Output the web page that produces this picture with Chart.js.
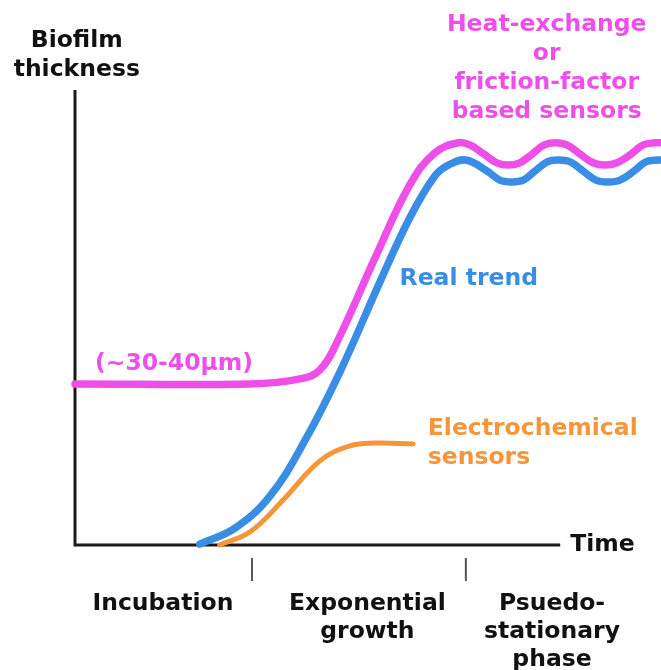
<!DOCTYPE html>
<html>
<head>
<meta charset="utf-8">
<script src="https://cdn.jsdelivr.net/npm/chart.js@4/dist/chart.umd.min.js"></script>
<style>
  html, body { margin: 0; padding: 0; background: #fff; }
  #wrap { width: 661px; height: 670px; position: relative; }
</style>
</head>
<body>
<div id="wrap"><canvas id="biofilmChart"></canvas></div>
<script>
// time (0-100) and thickness (0-100)
const heatTime = [0, 29.9, 38.4, 41.8, 44.9, 51.2, 57.2, 61.4, 65.4, 67.4, 69.8, 72.0, 73.9, 75.9, 78.0, 80.0, 81.9, 84.0, 86.2, 88.4, 90.4, 92.5, 94.9, 96.9, 99.0, 100]
const heatThickness = [35.4, 35.4, 36.5, 38.5, 45.1, 63.1, 79.3, 86.2, 88.4, 87.9, 85.9, 84.0, 83.5, 84.0, 85.9, 87.9, 88.4, 87.9, 85.9, 84.0, 83.5, 84.0, 85.9, 87.9, 88.4, 88.4]

const realTime = [21.3, 27.3, 33.3, 39.3, 45.2, 52.1, 57.2, 61.4, 63.7, 66.7, 70.3, 72.5, 74.4, 76.5, 78.5, 80.6, 82.4, 84.5, 86.7, 88.9, 91.0, 93.0, 95.4, 97.4, 99.5, 100]
const realThickness = [0.2, 3.7, 10.8, 23.1, 38.0, 58.0, 72.1, 81.1, 83.5, 84.6, 82.2, 80.2, 79.8, 80.2, 82.2, 84.2, 84.6, 84.2, 82.2, 80.2, 79.8, 80.2, 82.2, 84.2, 84.6, 84.6]

const echemTime = [24.7, 29.9, 35.8, 41.8, 46.9, 51.2, 57.7]
const echemThickness = [0, 2.9, 10.3, 18.5, 21.8, 22.4, 22.2]

// phase boundaries on the time axis and phase names
const phaseMarks = [30.2, 66.7]
const phaseNames = [['Incubation'], ['Exponential', 'growth'], ['Psuedo-', 'stationary', 'phase']]
const phaseCenters = [15.0, 49.9, 81.4]

const toPoints = (xs, ys) => xs.map((x, i) => ({ x: x, y: ys[i] }))

const FONT = "bold 23.5px 'DejaVu Sans'"
const MAGENTA = '#ef4fe9'
const BLUE = '#3a8de4'
const ORANGE = '#f5963a'

// free text on the chart: [lines, time, thickness, colour, align]
const notes = [
  [['Biofilm', 'thickness'], 0.3, 109.5, '#111', 'center'],
  [['Heat-exchange', 'or', 'friction-factor', 'based sensors'], 80.5, 112.9, MAGENTA, 'center'],
  [['(~30-40µm)'], 16.9, 38.5, MAGENTA, 'center'],
  [['Real trend'], 67.2, 57.1, BLUE, 'center'],
  [['Electrochemical', 'sensors'], 60.2, 24.2, ORANGE, 'left'],
  [['Time'], 84.5, -1.3, '#111', 'left']
]

const axesPlugin = {
  id: 'axes',
  beforeDatasetsDraw(chart) {
    const { ctx, scales: { x, y } } = chart
    const x0 = x.getPixelForValue(0), y0 = y.getPixelForValue(0)
    ctx.save()
    ctx.strokeStyle = '#1a1a1a'
    ctx.lineWidth = 3
    ctx.beginPath()
    ctx.moveTo(x0, y.getPixelForValue(100))
    ctx.lineTo(x0, y0)
    ctx.lineTo(x.getPixelForValue(82.8), y0)
    ctx.stroke()
    ctx.strokeStyle = '#555'
    ctx.lineWidth = 2
    phaseMarks.forEach(t => {
      const px = x.getPixelForValue(t)
      ctx.beginPath()
      ctx.moveTo(px, y0 + 13)
      ctx.lineTo(px, y0 + 36)
      ctx.stroke()
    })
    ctx.restore()
  },
  afterDraw(chart) {
    const { ctx, scales: { x, y } } = chart
    ctx.save()
    ctx.font = FONT
    ctx.textBaseline = 'alphabetic'
    notes.forEach(([lines, t, v, color, align]) => {
      ctx.fillStyle = color
      ctx.textAlign = align
      lines.forEach((s, i) => ctx.fillText(s, x.getPixelForValue(t), y.getPixelForValue(v) + i * 29))
    })
    ctx.fillStyle = '#111'
    ctx.textAlign = 'center'
    const y0 = y.getPixelForValue(0)
    phaseNames.forEach((lines, k) => {
      lines.forEach((s, i) => ctx.fillText(s, x.getPixelForValue(phaseCenters[k]), y0 + 65 + i * 28))
    })
    ctx.restore()
  }
}

new Chart(document.getElementById('biofilmChart'), {
  type: 'line',
  data: {
    datasets: [
      { data: toPoints(echemTime, echemThickness), borderColor: ORANGE, borderWidth: 5 },
      { data: toPoints(realTime, realThickness), borderColor: BLUE, borderWidth: 7.5 },
      { data: toPoints(heatTime, heatThickness), borderColor: MAGENTA, borderWidth: 7.5 }
    ]
  },
  options: {
    responsive: true,
    maintainAspectRatio: false,
    animation: false,
    layout: { padding: { left: 75, right: 0, top: 90, bottom: 125 } },
    elements: {
      point: { radius: 0 },
      line: { tension: 0.4, borderCapStyle: 'round', borderJoinStyle: 'round', fill: false }
    },
    plugins: { legend: { display: false }, tooltip: { enabled: false } },
    scales: {
      x: { type: 'linear', min: 0, max: 100, display: false },
      y: { min: 0, max: 100, display: false }
    },
    clip: false
  },
  plugins: [axesPlugin]
})
</script>
</body>
</html>
